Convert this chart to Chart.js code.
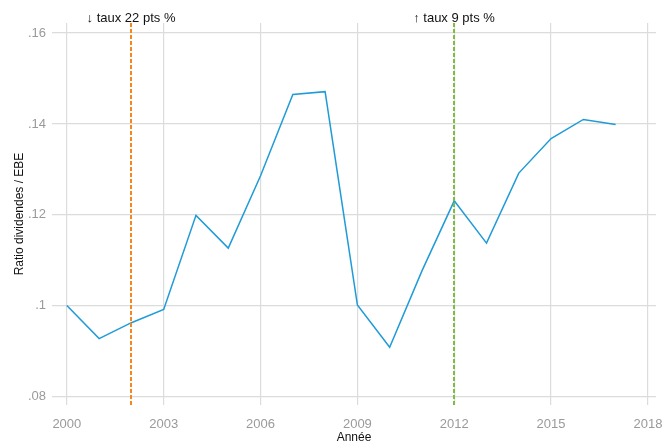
<!DOCTYPE html>
<html>
<head>
<meta charset="utf-8">
<script src="https://cdn.jsdelivr.net/npm/chart.js@4"></script>
<style>
  body { margin: 0; background: #fff; }
  #wrap { width: 664px; height: 441px; position: relative; }
</style>
</head>
<body>
<div id="wrap"><canvas id="myChart"></canvas></div>
<script>
// données
const annees = [2000, 2001, 2002, 2003, 2004, 2005, 2006, 2007, 2008, 2009, 2010, 2011, 2012, 2013, 2014, 2015, 2016, 2017];
const ratio = [0.1001, 0.0928, 0.0963, 0.0992, 0.1199, 0.1127, 0.1286, 0.1465, 0.1471, 0.1002, 0.0909, 0.1077, 0.1231, 0.1138, 0.1292, 0.1368, 0.1410, 0.1399];
const xTicks = [2000, 2003, 2006, 2009, 2012, 2015, 2018];
const yTicks = [0.08, 0.10, 0.12, 0.14, 0.16];

// lignes verticales (réformes)
const reformes = [
    { annee: 2002, texte: '\u2193 taux 22 pts %', couleur: '#f7861c' },
    { annee: 2012, texte: '\u2191 taux 9 pts %', couleur: '#80bd3e' }
];

const fontFam = '"Liberation Sans", Arial, sans-serif';

// plugin pour dessiner les lignes pointillées et le texte
const reformesPlugin = {
    id: 'reformes',
    afterDatasetsDraw(chart) {
        const ctx = chart.ctx;
        const x = chart.scales.x;
        const area = chart.chartArea;
        reformes.forEach(r => {
            const px = Math.round(x.getPixelForValue(r.annee));
            ctx.save();
            ctx.strokeStyle = r.couleur;
            ctx.lineWidth = 2;
            ctx.setLineDash([4, 2]);
            ctx.beginPath();
            ctx.moveTo(px, area.top);
            ctx.lineTo(px, area.bottom);
            ctx.stroke();
            ctx.setLineDash([]);
            ctx.fillStyle = '#111';
            ctx.font = '13px ' + fontFam;
            ctx.textAlign = 'center';
            ctx.textBaseline = 'middle';
            ctx.fillText(r.texte, px, 18);
            ctx.restore();
        });
    }
};

let ctx = document.getElementById('myChart').getContext('2d');
new Chart(ctx, {
    type: 'line',
    data: {
        datasets: [{
            data: annees.map((a, i) => ({ x: a, y: ratio[i] })),
            borderColor: '#1f9bd7',
            borderWidth: 1.5,
            pointRadius: 0,
            fill: false,
            tension: 0
        }]
    },
    options: {
        responsive: true,
        maintainAspectRatio: false,
        animation: false,
        layout: { padding: { top: 23, right: 8, left: 0, bottom: 0 } },
        plugins: { legend: { display: false }, tooltip: { enabled: false } },
        scales: {
            x: {
                type: 'linear',
                min: 1999.54,
                max: 2018.25,
                afterBuildTicks: axis => { axis.ticks = xTicks.map(v => ({ value: v })); },
                afterFit: axis => { axis.height = 36; axis.paddingRight = 0; axis.paddingLeft = 0; },
                border: { display: false },
                grid: { color: '#dcdcdc', lineWidth: 1.2, drawTicks: false },
                ticks: {
                    color: '#9a9a9a',
                    font: { family: fontFam, size: 13 },
                    padding: 12,
                    maxRotation: 0,
                    callback: v => String(v)
                },
                title: {
                    display: true,
                    text: 'Année',
                    color: '#111',
                    font: { family: fontFam, size: 12, lineHeight: 1 },
                    padding: { top: 0, bottom: -3 }
                }
            },
            y: {
                min: 0.0782,
                max: 0.1622,
                afterBuildTicks: axis => { axis.ticks = yTicks.map(v => ({ value: v })); },
                afterFit: axis => { axis.width = 52; },
                border: { display: false },
                grid: { color: '#dcdcdc', lineWidth: 1.2, drawTicks: false },
                ticks: {
                    color: '#9a9a9a',
                    font: { family: fontFam, size: 13 },
                    padding: 6,
                    callback: v => String(parseFloat(v.toFixed(2))).replace(/^0/, '')
                },
                title: {
                    display: true,
                    text: 'Ratio dividendes / EBE',
                    color: '#111',
                    font: { family: fontFam, size: 12 },
                    padding: { top: 12, bottom: 0 }
                }
            }
        }
    },
    plugins: [reformesPlugin]
});
</script>
</body>
</html>
